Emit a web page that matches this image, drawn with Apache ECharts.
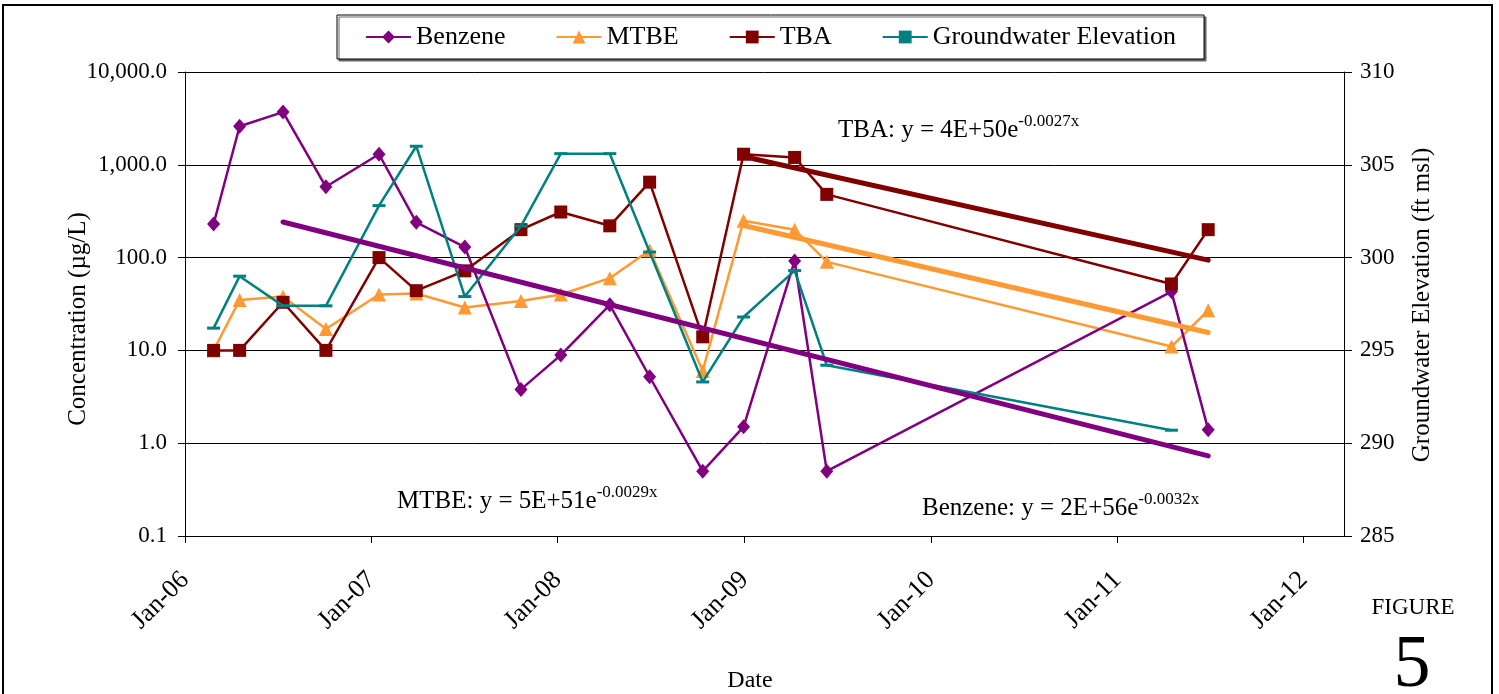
<!DOCTYPE html>
<html>
<head>
<meta charset="utf-8">
<title>Figure 5</title>
<script src="https://cdn.jsdelivr.net/npm/echarts@6/dist/echarts.min.js"></script>
<style>
    html, body { margin: 0; padding: 0; background: #fff; }
    #chart { width: 1499px; height: 694px; }
</style>
</head>
<body>
<div id="chart"></div>
<script>
// Sample dates and results
var sampleDates = ['2006-02-26', '2006-04-18', '2006-07-12', '2006-10-04', '2007-01-16', '2007-03-30',
    '2007-07-03', '2007-10-21', '2008-01-07', '2008-04-12', '2008-06-29', '2008-10-11', '2008-12-30',
    '2009-04-09', '2009-06-11', '2011-04-17', '2011-06-28'];
var benzene = [230, 2600, 3700, 580, 1300, 240, 130, 3.8, 8.9, 31, 5.2, 0.5, 1.5, 92, 0.5, 43, 1.4];
var mtbe = [10, 35, 38, 17, 40, 41, 29, 34, 40, 60, 120, 6, 250, 200, 90, 11, 27];
var tba = [10, 10, 33, 10, 100, 44, 72, 200, 310, 220, 650, 14, 1300, 1200, 480, 52, 200];
// groundwater was not measured at the last event
var groundwater = [296.2, 299.0, 297.4, 297.4, 302.8, 306.0, 297.9, 301.7, 305.6, 305.6, 300.3,
    293.3, 296.8, 299.3, 294.2, 290.7];

// Trendline end points (exponential fits, straight on the log axis)
var benzeneTrendDates = ['2006-07-12', '2011-06-28'];
var benzeneTrend = [242, 0.73];
var mtbeTrendDates = ['2008-12-30', '2011-06-28'];
var mtbeTrend = [222, 15.6];
var tbaTrendDates = ['2008-12-30', '2011-06-28'];
var tbaTrend = [1230, 94];

// Axis ticks
var yearTicks = ['2006-01-01', '2007-01-01', '2008-01-01', '2009-01-01', '2010-01-01', '2011-01-01', '2012-01-01'];
var dateMin = '2006-01-01';
var dateMax = '2012-03-20';
var monthNames = ['Jan', 'Feb', 'Mar', 'Apr', 'May', 'Jun', 'Jul', 'Aug', 'Sep', 'Oct', 'Nov', 'Dec'];

var FONT = '"Liberation Serif", "DejaVu Serif", serif';

function toTime(s) {
    return +echarts.time.parse(s);
}

function pairs(dates, values) {
    var out = [];
    for (var i = 0; i < values.length; i++) {
        out.push([toTime(dates[i]), values[i]]);
    }
    return out;
}

var tickValues = yearTicks.map(toTime);

var chart = echarts.init(document.getElementById('chart'));
var option = {
    backgroundColor: '#fff',
    animation: false,
    textStyle: { fontFamily: FONT, color: '#000' },
    grid: {
        left: 185,
        right: 155,
        top: 72,
        bottom: 158
    },
    legend: {
        data: ['Benzene', 'MTBE', 'TBA', 'Groundwater Elevation'],
        left: 337,
        top: 15,
        padding: [9, 28, 9, 28],
        itemGap: 50,
        itemWidth: 45,
        itemHeight: 16,
        borderColor: '#000',
        borderWidth: 1,
        backgroundColor: '#fff',
        shadowColor: '#666',
        shadowOffsetX: 2,
        shadowOffsetY: 2,
        shadowBlur: 0,
        textStyle: { fontFamily: FONT, fontSize: 26, color: '#000' }
    },
    xAxis: {
        type: 'value',
        min: toTime(dateMin),
        max: toTime(dateMax),
        axisLine: { lineStyle: { color: '#000', width: 1 } },
        axisTick: { show: true, length: 7, lineStyle: { color: '#000' }, customValues: tickValues },
        axisLabel: {
            rotate: 45,
            margin: 40,
            fontFamily: FONT,
            fontSize: 26,
            color: '#000',
            customValues: tickValues,
            formatter: function (val) {
                var d = new Date(val);
                return monthNames[d.getMonth()] + '-' + String(d.getFullYear()).slice(2);
            }
        },
        splitLine: { show: false }
    },
    yAxis: [
        {
            type: 'log',
            logBase: 10,
            min: 0.1,
            max: 10000,
            axisLine: { show: true, lineStyle: { color: '#000', width: 1 } },
            axisTick: { show: true, length: 7, lineStyle: { color: '#000' } },
            axisLabel: {
                margin: 18,
                fontFamily: FONT,
                fontSize: 23,
                color: '#000',
                formatter: function (v) {
                    return Number(v).toLocaleString('en-US', { minimumFractionDigits: 1, maximumFractionDigits: 1 });
                }
            },
            splitLine: { show: true, lineStyle: { color: '#000', width: 1 } }
        },
        {
            type: 'value',
            min: 285,
            max: 310,
            interval: 5,
            axisLine: { show: true, lineStyle: { color: '#000', width: 1 } },
            axisTick: { show: true, length: 8, lineStyle: { color: '#000' } },
            axisLabel: { margin: 16, fontFamily: FONT, fontSize: 23, color: '#000' },
            splitLine: { show: false }
        }
    ],
    series: [
        {
            name: 'Benzene',
            type: 'line',
            data: pairs(sampleDates, benzene),
            symbol: 'diamond',
            symbolSize: [13, 15],
            lineStyle: { color: '#800080', width: 2.5 },
            itemStyle: { color: '#800080' },
            z: 3
        },
        {
            name: 'MTBE',
            type: 'line',
            data: pairs(sampleDates, mtbe),
            symbol: 'triangle',
            symbolSize: 14,
            lineStyle: { color: '#FF9933', width: 2.5 },
            itemStyle: { color: '#FF9933' },
            z: 2
        },
        {
            name: 'TBA',
            type: 'line',
            data: pairs(sampleDates, tba),
            symbol: 'rect',
            symbolSize: 13,
            lineStyle: { color: '#800000', width: 2.5 },
            itemStyle: { color: '#800000' },
            z: 4
        },
        {
            name: 'Groundwater Elevation',
            type: 'line',
            yAxisIndex: 1,
            data: pairs(sampleDates, groundwater),
            symbol: 'rect',
            symbolSize: [13, 3],
            lineStyle: { color: '#008080', width: 2.5 },
            itemStyle: { color: '#008080' },
            z: 5
        },
        {
            name: 'Benzene trend',
            type: 'line',
            data: pairs(benzeneTrendDates, benzeneTrend),
            symbol: 'none',
            lineStyle: { color: '#800080', width: 5, cap: 'round' },
            z: 6
        },
        {
            name: 'MTBE trend',
            type: 'line',
            data: pairs(mtbeTrendDates, mtbeTrend),
            symbol: 'none',
            lineStyle: { color: '#FF9933', width: 5, cap: 'round' },
            z: 6
        },
        {
            name: 'TBA trend',
            type: 'line',
            data: pairs(tbaTrendDates, tbaTrend),
            symbol: 'none',
            lineStyle: { color: '#800000', width: 5, cap: 'round' },
            z: 6
        }
    ],
    graphic: [
        {
            type: 'rect',
            shape: { x: 3, y: 5, width: 1489, height: 720 },
            style: { fill: 'none', stroke: '#000', lineWidth: 2 },
            silent: true
        },
        {
            type: 'text',
            x: 78, y: 319,
            rotation: Math.PI / 2,
            style: { text: 'Concentration (µg/L)', font: '25px ' + FONT, fill: '#000', align: 'center', verticalAlign: 'middle' }
        },
        {
            type: 'text',
            x: 1422, y: 305,
            rotation: Math.PI / 2,
            style: { text: 'Groundwater Elevation (ft msl)', font: '25px ' + FONT, fill: '#000', align: 'center', verticalAlign: 'middle' }
        },
        {
            type: 'text',
            x: 750, y: 681,
            style: { text: 'Date', font: '24px ' + FONT, fill: '#000', align: 'center', verticalAlign: 'middle' }
        },
        {
            type: 'text',
            x: 1413, y: 608,
            style: { text: 'FIGURE', font: '23px ' + FONT, fill: '#000', align: 'center', verticalAlign: 'middle' }
        },
        {
            type: 'text',
            x: 1412, y: 667,
            style: { text: '5', font: '74px ' + FONT, fill: '#000', align: 'center', verticalAlign: 'middle' }
        },
        {
            type: 'text',
            x: 838, y: 113,
            style: {
                text: '{a|TBA: y = 4E+50e}{b|-0.0027x}',
                fill: '#000',
                rich: {
                    a: { fontFamily: FONT, fontSize: 25, lineHeight: 30, verticalAlign: 'bottom' },
                    b: { fontFamily: FONT, fontSize: 17, lineHeight: 30, verticalAlign: 'top' }
                }
            }
        },
        {
            type: 'text',
            x: 397, y: 484,
            style: {
                text: '{a|MTBE: y = 5E+51e}{b|-0.0029x}',
                fill: '#000',
                rich: {
                    a: { fontFamily: FONT, fontSize: 25, lineHeight: 30, verticalAlign: 'bottom' },
                    b: { fontFamily: FONT, fontSize: 17, lineHeight: 30, verticalAlign: 'top' }
                }
            }
        },
        {
            type: 'text',
            x: 922, y: 491,
            style: {
                text: '{a|Benzene: y = 2E+56e}{b|-0.0032x}',
                fill: '#000',
                rich: {
                    a: { fontFamily: FONT, fontSize: 25, lineHeight: 30, verticalAlign: 'bottom' },
                    b: { fontFamily: FONT, fontSize: 17, lineHeight: 30, verticalAlign: 'top' }
                }
            }
        }
    ]
};
chart.setOption(option);
</script>
</body>
</html>
